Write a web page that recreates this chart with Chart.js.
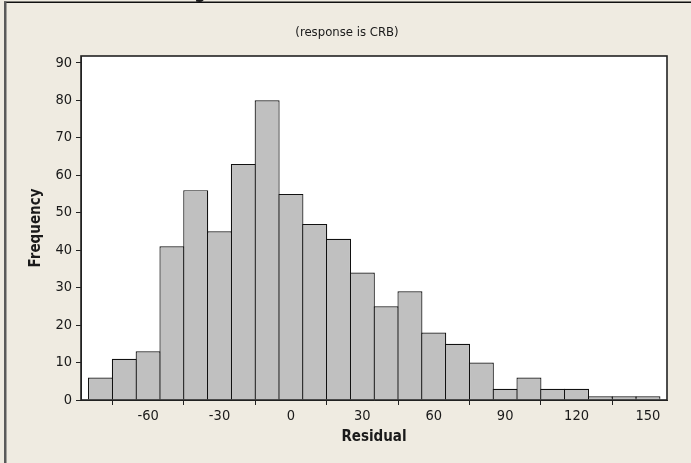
<!DOCTYPE html>
<html>
<head>
<meta charset="utf-8">
<script src="https://cdn.jsdelivr.net/npm/chart.js@4/dist/chart.umd.min.js"></script>
<style>
  html, body { margin: 0; padding: 0; background: #efebe1; }
  canvas { display: block; }
</style>
</head>
<body>
<canvas id="histChart" width="691" height="463"></canvas>
<script>
// bin centres (width 10) and counts
const binCenters = [-80, -70, -60, -50, -40, -30, -20, -10, 0, 10, 20, 30, 40, 50, 60, 70, 80, 90, 100, 110, 120, 130, 140, 150];
const counts = [6, 11, 13, 41, 56, 45, 63, 80, 55, 47, 43, 34, 25, 29, 18, 15, 10, 3, 6, 3, 3, 1, 1, 1];
const xTicks = [-60, -30, 0, 30, 60, 90, 120, 150];
const yTicks = [0, 10, 20, 30, 40, 50, 60, 70, 80, 90];

const mainTitle = "Histogram of the Residuals";
const subTitle = "(response is CRB)";

const FONT = "'DejaVu Sans Condensed', 'Liberation Sans', sans-serif";
const INK = "#1a1a1a";

// page background, white plot area, frames and the header texts
const decorPlugin = {
  id: "decor",
  beforeDraw(chart) {
    const { ctx, chartArea: a } = chart;
    ctx.save();
    ctx.fillStyle = "#efebe1";
    ctx.fillRect(0, 0, chart.width, chart.height);
    ctx.fillStyle = "#ffffff";
    ctx.fillRect(a.left, a.top, a.right - a.left, a.bottom - a.top);
    ctx.restore();
  },
  afterDraw(chart) {
    const { ctx, chartArea: a } = chart;
    ctx.save();
    // plot frame
    ctx.strokeStyle = "#222";
    ctx.lineWidth = 1.6;
    ctx.strokeRect(a.left, a.top, a.right - a.left, a.bottom - a.top);

    // main title mostly cut off above the picture, only the "g" shows
    ctx.font = "bold 18px " + FONT;
    ctx.fillStyle = INK;
    ctx.textBaseline = "alphabetic";
    ctx.textAlign = "left";
    const gx = 200 - ctx.measureText("Histo").width - ctx.measureText("g").width / 2;
    ctx.fillText(mainTitle, gx, -2);

    // outer graph border (left and top edges)
    ctx.fillStyle = "#111";
    ctx.fillRect(4, 1.5, chart.width, 1.5);
    ctx.fillStyle = "#5a5a5a";
    ctx.fillRect(4, 1.5, 2.5, chart.height);

    // subtitle
    ctx.font = "13px " + FONT;
    ctx.fillStyle = INK;
    ctx.textAlign = "center";
    ctx.textBaseline = "middle";
    ctx.fillText(subTitle, 347, 33);
    ctx.restore();
  }
};

const ctx = document.getElementById("histChart").getContext("2d");
new Chart(ctx, {
  type: "bar",
  data: {
    datasets: [{
      data: binCenters.map((c, i) => ({ x: c, y: counts[i] })),
      backgroundColor: "#c0c0c0",
      borderColor: "#111",
      borderWidth: 1.2,
      barPercentage: 1.05,
      categoryPercentage: 1,
      grouped: false
    }]
  },
  options: {
    responsive: false,
    animation: false,
    layout: { padding: { top: 56, right: 24, left: 0, bottom: 0 } },
    plugins: {
      legend: { display: false },
      tooltip: { enabled: false }
    },
    scales: {
      x: {
        type: "linear",
        min: -88.2,
        max: 158,
        offset: false,
        afterBuildTicks: (scale) => { scale.ticks = xTicks.map(v => ({ value: v })); },
        afterFit: (scale) => { scale.height = 63; },
        grid: { drawOnChartArea: false, drawTicks: true, tickLength: 5, color: "#222" },
        border: { display: true, color: "#222", width: 1 },
        ticks: { color: INK, font: { family: FONT, size: 14.5 }, padding: 3, maxRotation: 0 },
        title: {
          display: true,
          text: "Residual",
          color: INK,
          font: { family: FONT, size: 15, weight: "bold" },
          padding: { top: 0, bottom: 17 }
        }
      },
      y: {
        min: 0,
        max: 91.8,
        afterBuildTicks: (scale) => { scale.ticks = yTicks.map(v => ({ value: v })); },
        afterFit: (scale) => { scale.width = 81; },
        grid: { drawOnChartArea: false, drawTicks: true, tickLength: 5, color: "#222" },
        border: { display: true, color: "#222", width: 1 },
        ticks: { color: INK, font: { family: FONT, size: 14.5 }, padding: 4 },
        title: {
          display: true,
          text: "Frequency",
          color: INK,
          font: { family: FONT, size: 15, weight: "bold" },
          padding: { top: 27, bottom: 0 }
        }
      }
    }
  },
  plugins: [decorPlugin]
});
</script>
</body>
</html>
